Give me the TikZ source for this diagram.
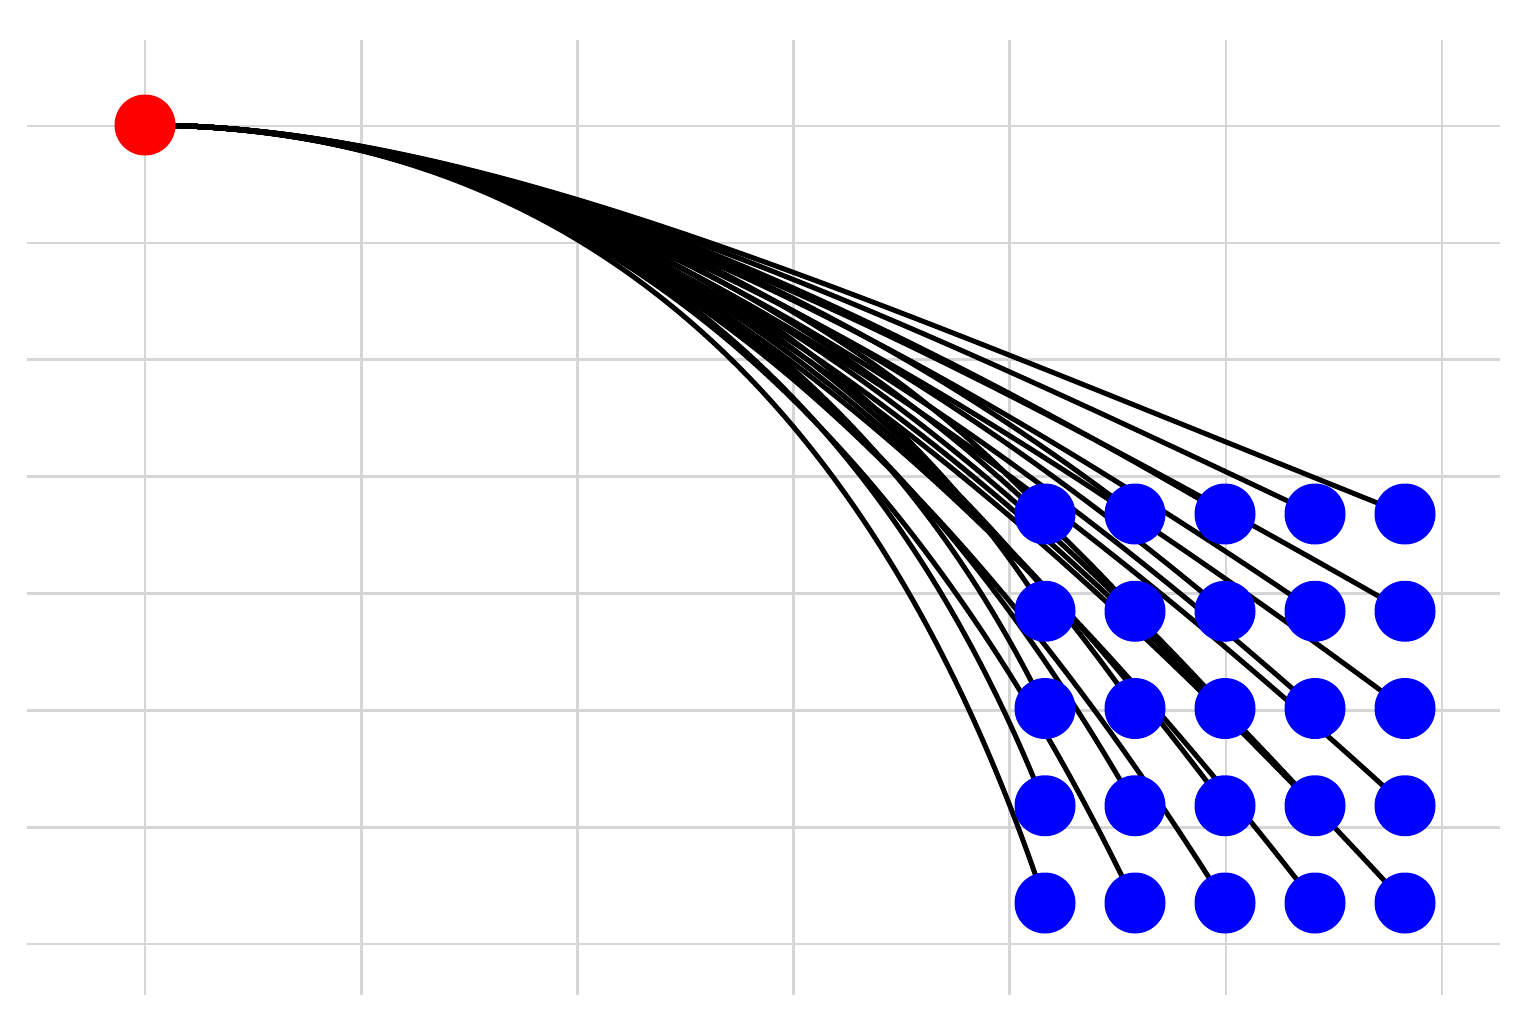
\documentclass[tikz,border=0pt]{standalone}
\usetikzlibrary{backgrounds}
\begin{document}
\begin{tikzpicture}[x=1pt,y=-1pt,
  gridline/.style={draw=gray!32,line width=2.7pt},
  srcdot/.style={circle,fill=red,minimum size=61pt,inner sep=0pt},
  dstdot/.style={circle,fill=blue,minimum size=61pt,inner sep=0pt},
  ray/.style={draw=black,line width=5pt}]
\useasboundingbox (0,0) rectangle (1536,1031);
\node[srcdot] (src) at (145,125) {};
\foreach \i in {0,...,4}{
  \foreach \j in {0,...,4}{
    \node[dstdot] (b\i\j) at ({1045+90*\i},{514+97.25*\j}) {};
  }
}
\begin{scope}[on background layer]
  \foreach \k in {0,...,6}{
    \draw[gridline] ({145+216.17*\k},40) -- ({145+216.17*\k},995);
  }
  \foreach \k in {0,...,7}{
    \draw[gridline] (27,{126+116.86*\k}) -- (1500,{126+116.86*\k});
  }
  \foreach \i in {0,...,4}{
    \foreach \j in {0,...,4}{
      \draw[ray] (src.center) .. controls (478,126) and (840,288) .. (b\i\j.center);
    }
  }
\end{scope}
\end{tikzpicture}
\end{document}
